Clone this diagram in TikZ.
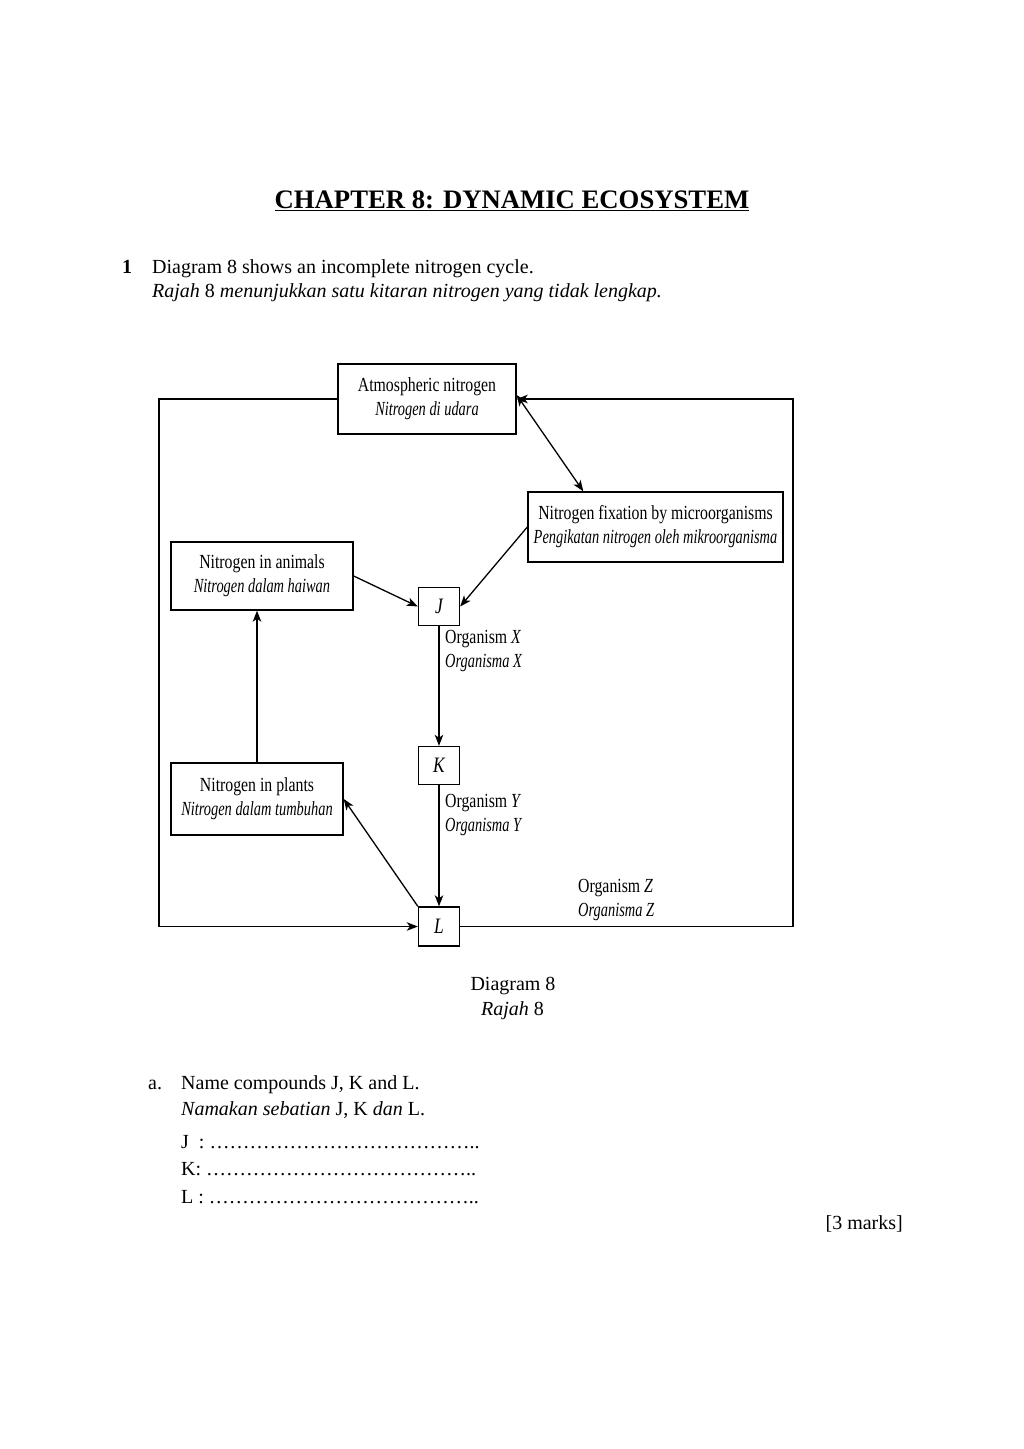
\documentclass[tikz,border=0pt]{standalone}
\usepackage{fontspec}
\setmainfont{Liberation Serif}
\newfontfamily\dfont[FakeStretch=0.79]{Liberation Serif}
\newfontfamily\difont[FakeStretch=0.72]{Liberation Serif}
\usetikzlibrary{arrows.meta,calc}
\newcommand\dit[1]{{\difont\itshape #1}}
\tikzset{
  dbox/.style={draw, line width=1.4pt, inner sep=0pt, align=center,
    font=\dfont\fontsize{20}{24}\selectfont},
  letterbox/.style={draw, line width=1.4pt, minimum width=41pt, minimum height=38pt,
    inner sep=0pt, font=\dfont\fontsize{22}{24}\selectfont\itshape},
  tip/.tip={Stealth[length=11pt,width=8.5pt,inset=3pt]},
  conn/.style={line width=1.3pt, -tip},
  dconn/.style={line width=1.3pt, tip-tip},
  lab/.style={anchor=west, align=left, inner sep=0pt,
    font=\dfont\fontsize{20}{24}\selectfont},
  txt/.style={anchor=base west, inner sep=0pt, font=\fontsize{20}{24}\selectfont},
  ctxt/.style={anchor=base, inner sep=0pt, font=\fontsize{20}{24}\selectfont},
}
\begin{document}
\begin{tikzpicture}[x=1pt,y=-1pt]
\useasboundingbox[fill=white] (0,0) rectangle (1024,1449);

% heading and question
\node[anchor=base, inner sep=0pt, font=\bfseries\fontsize{26.7}{30}\selectfont] (title) at (512,208)
  {\underline{CHAPTER 8: DYNAMIC ECOSYSTEM}};
\node[txt, font=\bfseries\fontsize{20}{24}\selectfont] (q1) at (122,273) {1};
\node[txt] (l1) at (152,273) {Diagram 8 shows an incomplete nitrogen cycle.};
\node[txt] (l2) at (152,297) {\textit{Rajah} 8 \textit{menunjukkan satu kitaran nitrogen yang tidak lengkap.}};

% diagram boxes
\node[dbox, minimum width=178pt, minimum height=70pt] (atm) at (427,399)
  {Atmospheric nitrogen\\ \dit{Nitrogen di udara}};
\node[dbox, minimum width=255pt, minimum height=70pt] (fix) at (655.5,527)
  {Nitrogen fixation by microorganisms\\ \dit{Pengikatan nitrogen oleh mikroorganisma}};
\node[dbox, minimum width=182pt, minimum height=68pt] (ani) at (262,576)
  {Nitrogen in animals\\ \dit{Nitrogen dalam haiwan}};
\node[dbox, minimum width=172pt, minimum height=72pt] (pla) at (257,799)
  {Nitrogen in plants\\ \dit{Nitrogen dalam tumbuhan}};
\node[letterbox] (J) at (439,606.5) {J};
\node[letterbox] (K) at (439,765.5) {K};
\node[letterbox, minimum height=39pt] (L) at (439,926.5) {L};

% frame corners
\coordinate (tl) at (159,399);
\coordinate (bl) at (159,926.5);
\coordinate (br) at (793,926.5);
\coordinate (tr) at (793,399);

% connectors
\draw[conn] (atm.west) -- (tl) -- (bl) -- (L.west);
\draw[conn] (L.east) -- (br) -- (tr) -- (atm.east);
\draw[dconn] ($(atm.east)+(0,-4)$) -- ($(fix.north west)+(56,0)$);
\draw[conn] (fix.west) -- (J.east);
\draw[conn] (ani.east) -- (J.west);
\draw[conn] (J) -- (K);
\draw[conn] (K) -- (L);
\draw[conn] (pla.north) -- (pla.north |- ani.south);
\draw[conn] (L.north west) -- (pla.east);

% labels
\node[lab] (orgx) at (445,651) {Organism \textit{X}\\ \dit{Organisma X}};
\node[lab] (orgy) at (445,815) {Organism \textit{Y}\\ \dit{Organisma Y}};
\node[lab] (orgz) at (578,900) {Organism \textit{Z}\\ \dit{Organisma Z}};

% caption
\node[ctxt] (cap1) at (513,990) {Diagram 8};
\node[ctxt] (cap2) at (512.5,1015) {\textit{Rajah} 8};

% question a
\node[txt] (qa) at (148,1089) {a.};
\node[txt] (a1) at (181,1089) {Name compounds J, K and L.};
\node[txt] (a2) at (181,1115) {\textit{Namakan sebatian} J, K \textit{dan} L.};
\node[txt] (aj) at (181,1148) {J\ \ : …………………………………..};
\node[txt] (ak) at (181,1175) {K: …………………………………..};
\node[txt] (al) at (181,1203) {L : …………………………………..};
\node[txt, anchor=base east] (marks) at (903,1229) {[3 marks]};
\end{tikzpicture}
\end{document}
